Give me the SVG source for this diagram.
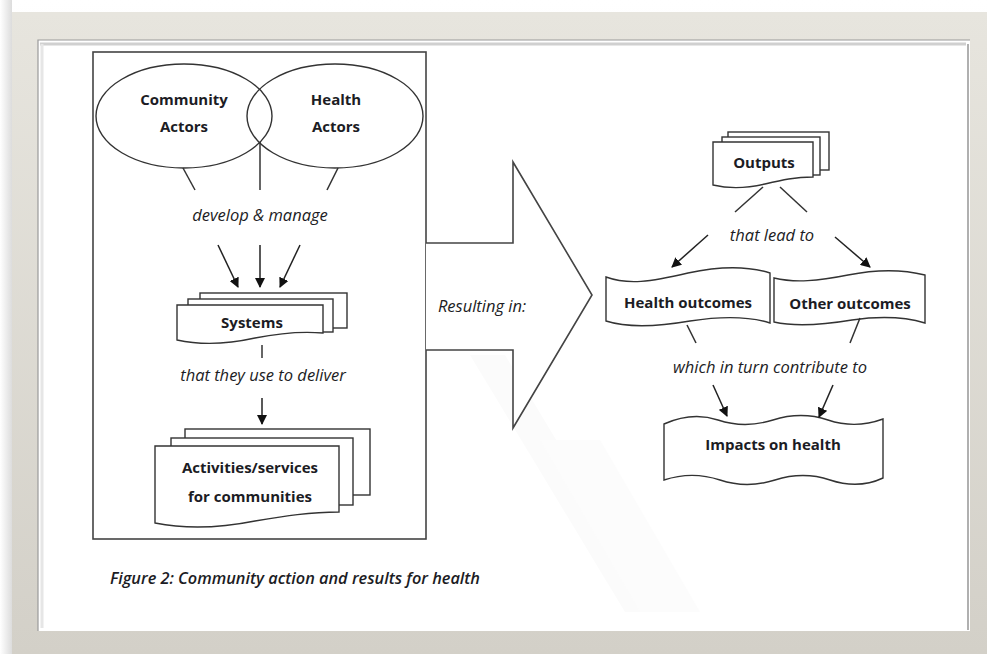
<svg xmlns="http://www.w3.org/2000/svg" width="987" height="654" viewBox="0 0 987 654">
  <defs>
    <linearGradient id="bgTop" x1="0" y1="0" x2="0" y2="1">
      <stop offset="0" stop-color="#ffffff"/>
      <stop offset="1" stop-color="#e4e4e4"/>
    </linearGradient>
    <linearGradient id="bgLeft" x1="0" y1="0" x2="1" y2="0">
      <stop offset="0" stop-color="#ffffff"/>
      <stop offset="1" stop-color="#dcdcdc"/>
    </linearGradient>
    <linearGradient id="frame" x1="0" y1="0" x2="0" y2="1">
      <stop offset="0" stop-color="#e7e5de"/>
      <stop offset="1" stop-color="#d3d0c8"/>
    </linearGradient>
    <marker id="ah" viewBox="0 0 10 10" refX="9" refY="5" markerWidth="10" markerHeight="10" markerUnits="userSpaceOnUse" orient="auto">
      <path d="M0,0 L10,5 L0,10 Z" fill="#111"/>
    </marker>
    <style>
      .ln { stroke: #333; stroke-width: 1.5; fill: none; }
      .arr { stroke: #222; stroke-width: 1.5; fill: none; marker-end: url(#ah); }
      .shape { stroke: #333; stroke-width: 1.4; fill: #fff; }
      .lbl { font-family: "Open Sans", "Noto Sans", "Liberation Sans", sans-serif; font-weight: bold; font-size: 15px; fill: #1c1c24; text-anchor: middle; }
      .it { font-family: "Open Sans", "Noto Sans", "Liberation Sans", sans-serif; font-style: italic; font-size: 16.5px; fill: #1c1c24; text-anchor: middle; }
      .cap { font-family: "Open Sans", "Noto Sans", "Liberation Sans", sans-serif; font-style: italic; font-weight: 600; font-size: 16px; fill: #1c1c24; text-anchor: start; }
    </style>
  </defs>

  <!-- page background and frame -->
  <g id="frame-bg">
    <rect x="0" y="0" width="987" height="654" fill="url(#bgTop)"/>
    <rect x="0" y="0" width="12" height="654" fill="url(#bgLeft)"/>
    <rect x="12" y="12" width="975" height="642" fill="url(#frame)"/>
    <rect x="38" y="40" width="932" height="591" fill="#ffffff"/>
    <path d="M38,631 V40 H970" fill="none" stroke="#9a9a9a" stroke-width="1.2"/>
    <path d="M40,44 H966" fill="none" stroke="#d0d0d0" stroke-width="3"/>
    <path d="M42,44 V628" fill="none" stroke="#e6e6e6" stroke-width="3"/>
    <path d="M968,44 V630" fill="none" stroke="#b0b0b0" stroke-width="2"/>
    <!-- faint watermark -->
    <path d="M470,355 L505,355 L660,612 L625,612 Z" fill="#fbfbfb"/>
    <path d="M540,440 L600,440 L700,612 L640,612 Z" fill="#fcfcfc"/>
  </g>

  <!-- left enclosing box -->
  <g id="left-box">
    <rect x="93" y="52" width="333" height="487" fill="none" stroke="#444" stroke-width="1.6"/>
  </g>

  <!-- big arrow -->
  <g id="resulting-arrow">
    <path d="M426,243 H513 V162 L592,295 L513,428 V350 H426" fill="#fff" stroke="#444" stroke-width="1.6"/>
    <text class="it" x="482" y="312">Resulting in:</text>
  </g>

  <!-- Venn actors -->
  <g id="community-actors">
    <ellipse cx="184" cy="116" rx="88" ry="52" fill="none" stroke="#333" stroke-width="1.4"/>
    <text class="lbl" x="184" y="105">Community</text>
    <text class="lbl" x="184" y="132">Actors</text>
  </g>
  <g id="health-actors">
    <ellipse cx="335" cy="116" rx="88" ry="52" fill="none" stroke="#333" stroke-width="1.4"/>
    <text class="lbl" x="336" y="105">Health</text>
    <text class="lbl" x="336" y="132">Actors</text>
  </g>

  <!-- Systems -->
  <g id="systems">
    <rect class="shape" x="200" y="293" width="147" height="35"/>
    <rect class="shape" x="188" y="299" width="145" height="33"/>
    <path class="shape" d="M177,305 H323 V333 C300,331 280,333 255,338 C228,344 200,345 177,340 Z"/>
    <text class="lbl" x="252" y="328">Systems</text>
  </g>

  <!-- Activities -->
  <g id="activities">
    <rect class="shape" x="185" y="429" width="185" height="66"/>
    <rect class="shape" x="171" y="438" width="182" height="67"/>
    <path class="shape" d="M155,446 H339 V512 C310,512 285,516 255,521 C225,527 190,530 155,523 Z"/>
    <text class="lbl" x="250" y="473">Activities/services</text>
    <text class="lbl" x="250" y="502">for communities</text>
  </g>

  <!-- Outputs -->
  <g id="outputs">
    <rect class="shape" x="728" y="132" width="101" height="38"/>
    <rect class="shape" x="722" y="137" width="98" height="38"/>
    <path class="shape" d="M713,142 H813 V177 C795,177 782,180 765,184 C748,188 730,189 713,185 Z"/>
    <text class="lbl" x="764" y="168">Outputs</text>
  </g>

  <!-- Health outcomes -->
  <g id="health-outcomes">
    <path class="shape" d="M606,277 C628,285 650,282 688,273 C720,266 748,266 770,273 V323 C748,316 722,316 690,321 C655,327 628,328 606,321 Z"/>
    <text class="lbl" x="688" y="308">Health outcomes</text>
  </g>

  <!-- Other outcomes -->
  <g id="other-outcomes">
    <path class="shape" d="M774,278 C795,283 818,281 848,275 C878,269 905,270 925,275 V323 C905,317 880,316 852,320 C822,325 796,327 774,322 Z"/>
    <text class="lbl" x="850" y="309">Other outcomes</text>
  </g>

  <!-- Impacts on health -->
  <g id="impacts-on-health">
    <path class="shape" d="M664,424 C682,416 700,414 718,420 C736,426 754,426 773,420 C792,414 810,414 828,420 C846,426 864,426 883,419 V478 C866,486 848,486 830,480 C812,474 794,474 775,480 C756,486 738,486 720,480 C702,474 682,474 664,480 Z"/>
    <text class="lbl" x="773" y="450">Impacts on health</text>
  </g>

  <!-- connectors -->
  <g id="connectors">
    <line class="ln" x1="183" y1="168" x2="195" y2="190"/>
    <line class="ln" x1="260" y1="142" x2="260" y2="190"/>
    <line class="ln" x1="338" y1="168" x2="327" y2="190"/>
    <line class="arr" x1="218" y1="245" x2="238" y2="287"/>
    <line class="arr" x1="260" y1="245" x2="260" y2="287"/>
    <line class="arr" x1="300" y1="245" x2="280" y2="287"/>
    <line class="ln" x1="262" y1="345" x2="262" y2="358"/>
    <line class="arr" x1="262" y1="398" x2="262" y2="424"/>
    <line class="ln" x1="763" y1="187" x2="735" y2="212"/>
    <line class="ln" x1="780" y1="187" x2="807" y2="212"/>
    <line class="arr" x1="708" y1="235" x2="672" y2="267"/>
    <line class="arr" x1="835" y1="237" x2="870" y2="267"/>
    <line class="ln" x1="687" y1="325" x2="696" y2="343"/>
    <line class="ln" x1="860" y1="318" x2="850" y2="343"/>
    <line class="arr" x1="713" y1="385" x2="727" y2="416"/>
    <line class="arr" x1="833" y1="385" x2="819" y2="417"/>
  </g>

  <!-- connector labels and caption -->
  <g id="labels">
    <text class="it" x="260" y="221">develop &amp; manage</text>
    <text class="it" x="263" y="381">that they use to deliver</text>
    <text class="it" x="772" y="241">that lead to</text>
    <text class="it" x="770" y="373">which in turn contribute to</text>
    <text class="cap" x="110" y="584" textLength="370" lengthAdjust="spacingAndGlyphs">Figure 2: Community action and results for health</text>
  </g>
</svg>
